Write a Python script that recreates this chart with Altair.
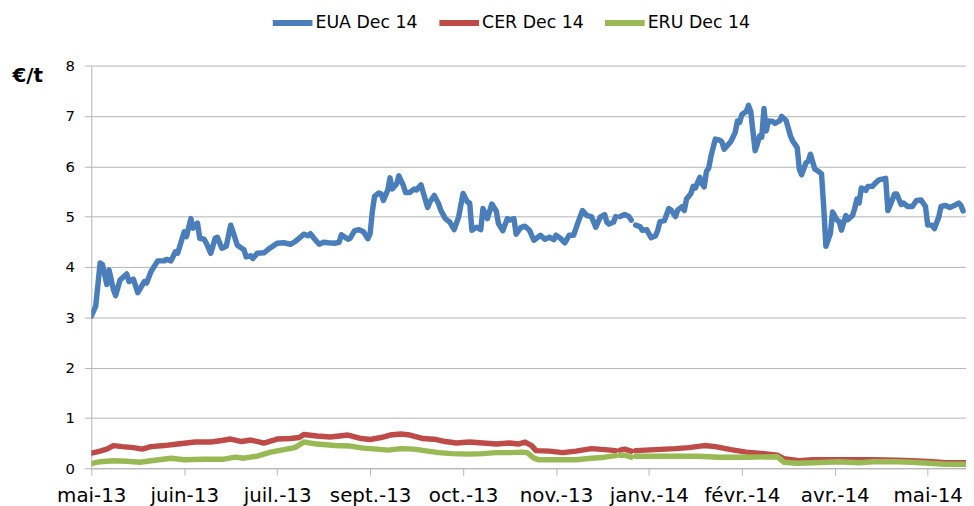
import json
import altair as alt
import pandas as pd

# ---------------- data ----------------
series_names = ["EUA Dec 14", "CER Dec 14", "ERU Dec 14"]
series_colors = ["#4A7EBB", "#BE4B48", "#98B954"]

# x positions are trading days counted from 2 May 2013
tick_days = [0, 42, 84, 126, 168, 210, 252, 294, 336, 378]
tick_labels = ["mai-13", "juin-13", "juil.-13", "sept.-13", "oct.-13",
               "nov.-13", "janv.-14", "févr.-14", "avr.-14", "mai-14"]
y_ticks = [0, 1, 2, 3, 4, 5, 6, 7, 8]

eua_day = [0, 2, 4, 5, 7, 8, 10, 11, 13, 16, 17, 19, 21, 24, 25, 27, 30, 33, 34, 36,
           38, 39, 42, 43, 45, 46, 48, 49, 51, 52, 54, 56, 57, 59, 61, 63, 64, 66, 69, 70,
           72, 73, 75, 78, 80, 82, 84, 87, 90, 92, 94, 96, 98, 99, 101, 103, 105, 107, 110, 112,
           113, 116, 117, 119, 121, 123, 125, 126, 127, 128, 130, 131, 132, 134, 135, 136, 138, 139, 141, 142,
           144, 146, 147, 149, 150, 152, 153, 155, 157, 158, 160, 162, 164, 166, 168, 170, 171, 172, 174, 176,
           177, 179, 181, 183, 184, 186, 188, 189, 191, 192, 194, 196, 198, 200, 203, 205, 207, 209, 210, 212,
           214, 216, 218, 220, 222, 224, 226, 228, 230, 232, 233, 234, 236, 237, 238, 239, 241, 243, 244, 245,
           246, 248, 249, 251, 253, 255, 256, 257, 259, 261, 262, 264, 265, 267, 268, 269, 271, 272, 273, 275,
           276, 277, 278, 279, 280, 282, 284, 285, 286, 288, 289, 291, 292, 293, 294, 296, 297, 298, 300, 301,
           302, 303, 304, 305, 306, 308, 309, 311, 312, 314, 316, 317, 319, 320, 321, 323, 324, 325, 327, 328,
           330, 331, 332, 334, 335, 337, 338, 339, 341, 342, 344, 345, 346, 347, 348, 350, 351, 353, 354, 356,
           358, 359, 360, 361, 363, 364, 366, 367, 369, 371, 373, 375, 377, 378, 380, 381, 383, 384, 386, 388,
           390, 392, 393, 394]
eua_val = [3.02, 3.22, 4.08, 4.05, 3.65, 3.94, 3.55, 3.43, 3.74, 3.86, 3.71, 3.76, 3.49, 3.71, 3.68, 3.91, 4.12, 4.12, 4.15, 4.12,
           4.30, 4.27, 4.70, 4.60, 4.96, 4.77, 4.87, 4.57, 4.55, 4.47, 4.27, 4.57, 4.59, 4.37, 4.41, 4.83, 4.70, 4.43, 4.34, 4.20,
           4.22, 4.17, 4.27, 4.28, 4.35, 4.41, 4.47, 4.48, 4.45, 4.50, 4.57, 4.65, 4.62, 4.66, 4.55, 4.45, 4.49, 4.48, 4.47, 4.49,
           4.64, 4.55, 4.57, 4.72, 4.74, 4.70, 4.56, 4.66, 5.10, 5.40, 5.47, 5.45, 5.32, 5.53, 5.77, 5.55, 5.65, 5.81, 5.62, 5.48,
           5.48, 5.55, 5.53, 5.63, 5.48, 5.18, 5.29, 5.42, 5.25, 5.12, 4.96, 4.89, 4.74, 4.99, 5.46, 5.29, 5.27, 4.73, 4.79, 4.74,
           5.16, 4.96, 5.25, 5.11, 4.86, 4.72, 4.96, 4.93, 4.96, 4.65, 4.78, 4.81, 4.73, 4.53, 4.63, 4.55, 4.59, 4.54, 4.63, 4.57,
           4.48, 4.63, 4.63, 4.89, 5.12, 5.02, 5.00, 4.79, 4.99, 5.04, 4.89, 4.85, 4.89, 5.00, None, 5.00, 5.04, 5.00, 4.93, None,
           4.83, 4.80, 4.73, 4.74, 4.58, 4.62, 4.73, 4.90, 4.92, 5.16, 5.13, 5.00, 5.13, 5.20, 5.12, 5.35, 5.46, 5.60, 5.57, 5.78,
           5.65, 5.59, 5.90, 5.96, 6.19, 6.54, 6.52, 6.48, 6.34, 6.44, 6.49, 6.67, 6.90, 6.87, 7.03, 7.09, 7.21, 7.09, 6.31, 6.44,
           6.60, 6.58, 7.15, 6.70, 6.90, 6.89, 6.85, 6.90, 6.99, 6.91, 6.60, 6.50, 6.37, 5.94, 5.83, 6.07, 6.10, 6.24, 5.94, 5.92,
           5.85, 5.19, 4.41, 4.66, 5.09, 4.93, 4.90, 4.73, 5.02, 4.94, 5.02, 5.16, 5.35, 5.27, 5.57, 5.52, 5.60, 5.60, 5.65, 5.73,
           5.75, 5.76, 5.12, 5.22, 5.45, 5.45, 5.24, 5.27, 5.20, 5.20, 5.32, 5.33, 5.20, 4.83, 4.83, 4.76, 4.99, 5.20, 5.22, 5.18,
           5.22, 5.27, 5.22, 5.11]

cer_day = [0, 4, 7, 10, 14, 19, 23, 27, 33, 39, 47, 54, 59, 63, 68, 72, 78, 84, 90, 94,
           96, 102, 108, 116, 122, 126, 131, 135, 140, 144, 150, 156, 160, 165, 171, 177, 183, 189, 193, 196,
           199, 201, 207, 213, 219, 226, 232, 237, 238, 239, 241, 244, 245, 246, 255, 264, 270, 277, 282, 289,
           296, 304, 310, 313, 320, 326, 335, 344, 353, 364, 371, 380, 386, 395]
cer_val = [0.30, 0.34, 0.38, 0.45, 0.43, 0.41, 0.38, 0.43, 0.45, 0.48, 0.52, 0.52, 0.55, 0.58, 0.53, 0.56, 0.50, 0.58, 0.59, 0.61,
           0.67, 0.64, 0.62, 0.66, 0.59, 0.57, 0.61, 0.66, 0.68, 0.66, 0.59, 0.57, 0.53, 0.50, 0.52, 0.50, 0.48, 0.50, 0.48, 0.52,
           0.45, 0.35, 0.34, 0.31, 0.34, 0.39, 0.37, 0.35, None, 0.36, 0.38, 0.34, None, 0.35, 0.37, 0.39, 0.41, 0.45, 0.43, 0.37,
           0.32, 0.29, 0.26, 0.19, 0.15, 0.17, 0.17, 0.17, 0.17, 0.16, 0.15, 0.13, 0.11, 0.11]

eru_day = [0, 4, 10, 16, 22, 27, 36, 42, 51, 60, 65, 69, 75, 81, 87, 92, 96, 102, 110, 117,
           123, 129, 134, 140, 146, 152, 157, 163, 171, 177, 183, 189, 195, 197, 200, 202, 210, 219, 226, 232,
           237, 238, 239, 241, 244, 245, 246, 259, 274, 284, 296, 310, 313, 319, 326, 338, 347, 353, 364, 371,
           379, 386, 395]
eru_val = [0.09, 0.13, 0.15, 0.14, 0.12, 0.15, 0.20, 0.17, 0.18, 0.18, 0.22, 0.20, 0.24, 0.32, 0.37, 0.41, 0.52, 0.48, 0.45, 0.44,
           0.40, 0.38, 0.36, 0.39, 0.38, 0.34, 0.31, 0.29, 0.28, 0.29, 0.31, 0.31, 0.32, 0.31, 0.20, 0.17, 0.17, 0.17, 0.20, 0.22,
           0.25, None, 0.26, 0.26, 0.22, None, 0.24, 0.24, 0.24, 0.22, 0.22, 0.23, 0.12, 0.10, 0.11, 0.13, 0.11, 0.13, 0.13, 0.12,
           0.10, 0.08, 0.08]

# ---------------- table ----------------
rows = []
for name, days, vals in zip(series_names,
                            [eua_day, cer_day, eru_day],
                            [eua_val, cer_val, eru_val]):
    seg = 0
    for d, v in zip(days, vals):
        if v is None:
            seg += 1
            continue
        rows.append({"day": d, "value": v, "series": name, "seg": f"{name}-{seg}"})
df = pd.DataFrame(rows)

label_expr = (json.dumps(tick_labels, ensure_ascii=False)
              + "[indexof(" + json.dumps(tick_days) + ", datum.value)]")

FONT = "DejaVu Sans"
GRID = "#B4B4B4"

chart = alt.Chart(df).mark_line(
    strokeWidth=5.5, clip=True, strokeJoin="round", strokeCap="round"
).encode(
    x=alt.X("day:Q",
            scale=alt.Scale(domain=[0, 395.3], nice=False, zero=False),
            axis=alt.Axis(values=tick_days, labelExpr=label_expr, title=None,
                          grid=False, tickSize=7, tickColor=GRID, domainColor=GRID,
                          labelFont=FONT, labelFontSize=20, labelColor="#000000",
                          labelPadding=11, labelFlush=False, labelOverlap=False)),
    y=alt.Y("value:Q",
            scale=alt.Scale(domain=[0, 8], nice=False, zero=True),
            axis=alt.Axis(values=y_ticks, format="d", grid=True, gridColor=GRID,
                          tickSize=7, tickColor=GRID, domainColor=GRID,
                          labelFont=FONT, labelFontSize=15, labelColor="#000000",
                          labelPadding=10,
                          title="€/t", titleAngle=0, titleAlign="left",
                          titleBaseline="middle", titleX=-80, titleY=10,
                          titleFont=FONT, titleFontSize=20, titleFontWeight="bold",
                          titleColor="#000000")),
    color=alt.Color("series:N",
                    scale=alt.Scale(domain=series_names, range=series_colors),
                    legend=alt.Legend(title=None, orient="none", legendX=180, legendY=-66,
                                      direction="horizontal", symbolType="stroke",
                                      symbolStrokeWidth=6, symbolSize=1600,
                                      labelFont=FONT, labelFontSize=17.5, labelColor="#000000",
                                      labelOffset=0, columnPadding=9, padding=0)),
    detail="seg:N",
).properties(
    width=882, height=406,
    padding={"left": 84, "top": 56, "right": 0, "bottom": 36},
    autosize=alt.AutoSizeParams(type="none"),
).configure_view(strokeWidth=0)

chart.save("out.html", embed_options={"renderer": "svg", "actions": False})
